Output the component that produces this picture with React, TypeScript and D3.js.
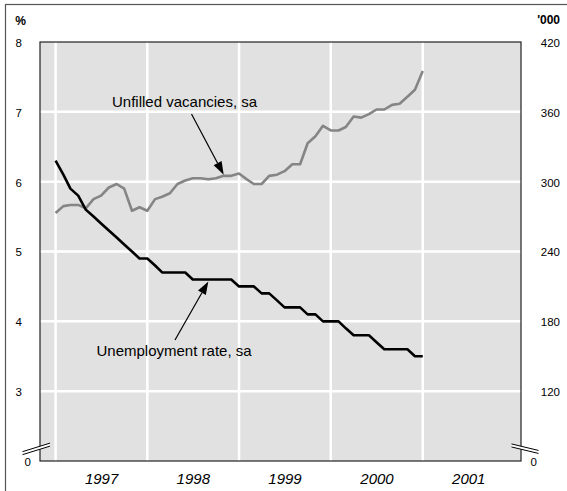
import { useEffect, useRef } from 'react'
import * as d3 from 'd3'

// monthly, Jan 1997 .. Jan 2001
const months = d3.range(49).map((i) => new Date(1997, i, 1))

// claimant unemployment rate, % (left axis)
const unemployment = [
  6.3, 6.1, 5.9, 5.8, 5.6, 5.5, 5.4, 5.3, 5.2, 5.1, 5.0, 4.9,
  4.9, 4.8, 4.7, 4.7, 4.7, 4.7, 4.6, 4.6, 4.6, 4.6, 4.6, 4.6,
  4.5, 4.5, 4.5, 4.4, 4.4, 4.3, 4.2, 4.2, 4.2, 4.1, 4.1, 4.0,
  4.0, 4.0, 3.9, 3.8, 3.8, 3.8, 3.7, 3.6, 3.6, 3.6, 3.6, 3.5,
  3.5,
]

// unfilled vacancies, '000 (right axis)
const vacancies = [
  273, 279, 280, 280, 277, 285, 288, 295, 298, 294, 275, 278,
  275, 285, 287, 290, 298, 301, 303, 303, 302, 303, 305, 305,
  307, 302, 298, 298, 305, 306, 309, 315, 315, 333, 339, 348,
  344, 344, 347, 356, 355, 358, 362, 362, 366, 367, 373, 379,
  395,
]

const leftTicks = [2, 3, 4, 5, 6, 7, 8]
const rightTicks = [60, 120, 180, 240, 300, 360, 420]
const gridValues = [3, 4, 5, 6, 7]
const years = [1997, 1998, 1999, 2000, 2001]

type Pt = { date: Date; value: number }

export default () => {
  const rootRef = useRef<SVGSVGElement>(null)

  useEffect(() => {
    const svg = d3.select(rootRef.current)
    svg.selectAll('*').remove()

    const left = 40,
      top = 42,
      right = 521,
      bottom = 461

    const x = d3
      .scaleTime()
      .domain([new Date(1996, 9, 31), new Date(2002, 0, 27)])
      .range([left, right])
    const yL = d3.scaleLinear().domain([2, 8]).range([bottom, top])
    const yR = d3.scaleLinear().domain([60, 420]).range([bottom, top])

    // outer frame
    svg
      .append('rect')
      .attr('x', 5.5)
      .attr('y', 4.5)
      .attr('width', 600)
      .attr('height', 600)
      .attr('fill', '#fff')
      .attr('stroke', '#555')
      .attr('stroke-width', 1.2)

    // plot background
    svg
      .append('rect')
      .attr('x', left)
      .attr('y', top)
      .attr('width', right - left)
      .attr('height', bottom - top)
      .attr('fill', '#e1e1e1')

    // grid
    svg
      .append('g')
      .selectAll('line')
      .data(gridValues)
      .join('line')
      .attr('x1', left)
      .attr('x2', right)
      .attr('y1', (d) => yL(d))
      .attr('y2', (d) => yL(d))
      .attr('stroke', '#fff')
      .attr('stroke-width', 2.5)
    svg
      .append('g')
      .selectAll('line')
      .data(years)
      .join('line')
      .attr('x1', (d) => x(new Date(d, 0, 1)))
      .attr('x2', (d) => x(new Date(d, 0, 1)))
      .attr('y1', top)
      .attr('y2', bottom)
      .attr('stroke', '#fff')
      .attr('stroke-width', 2.5)

    // plot frame
    svg
      .append('rect')
      .attr('x', left)
      .attr('y', top)
      .attr('width', right - left)
      .attr('height', bottom - top)
      .attr('fill', 'none')
      .attr('stroke', '#222')
      .attr('stroke-width', 1.2)

    // lines
    const vacData: Pt[] = months.map((d, i) => ({ date: d, value: vacancies[i] }))
    const uneData: Pt[] = months.map((d, i) => ({ date: d, value: unemployment[i] }))

    svg
      .append('path')
      .datum(vacData)
      .attr('fill', 'none')
      .attr('stroke', '#858585')
      .attr('stroke-width', 2.6)
      .attr('stroke-linejoin', 'round')
      .attr(
        'd',
        d3
          .line<Pt>()
          .x((d) => x(d.date))
          .y((d) => yR(d.value))
      )

    svg
      .append('path')
      .datum(uneData)
      .attr('fill', 'none')
      .attr('stroke', '#000')
      .attr('stroke-width', 2.6)
      .attr('stroke-linejoin', 'round')
      .attr(
        'd',
        d3
          .line<Pt>()
          .x((d) => x(d.date))
          .y((d) => yL(d.value))
      )

    // axes
    const font = '"Liberation Sans", Arial, sans-serif'
    const leftAxis = svg
      .append('g')
      .attr('transform', 'translate(22,0)')
      .call(
        d3
          .axisLeft(yL)
          .tickValues(leftTicks)
          .tickSize(0)
          .tickPadding(0)
          .tickFormat((d) => (d === 2 ? '0' : String(d)))
      )
    leftAxis.select('.domain').remove()
    leftAxis
      .selectAll('text')
      .attr('font-size', 11.5)
      .attr('font-family', font)
      .attr('fill', '#000')
      .attr('dy', '0.38em')
      .filter((d) => d === 2)
      .attr('x', 9)

    const rightAxis = svg
      .append('g')
      .attr('transform', 'translate(560,0)')
      .call(
        d3
          .axisLeft(yR)
          .tickValues(rightTicks)
          .tickSize(0)
          .tickPadding(0)
          .tickFormat((d) => (d === 60 ? '0' : String(d)))
      )
    rightAxis.select('.domain').remove()
    rightAxis
      .selectAll('text')
      .attr('font-size', 11.5)
      .attr('font-family', font)
      .attr('fill', '#000')
      .attr('dy', '0.38em')
      .filter((d) => d === 60)
      .attr('x', -23)

    const bottomAxis = svg
      .append('g')
      .attr('transform', `translate(0,${bottom})`)
      .call(
        d3
          .axisBottom(x)
          .tickValues(years.map((y) => new Date(y, 6, 1)))
          .tickSize(0)
          .tickPadding(12.5)
          .tickFormat((d) => d3.timeFormat('%Y')(d as Date))
      )
    bottomAxis.select('.domain').remove()
    bottomAxis
      .selectAll('text')
      .attr('font-size', 15)
      .attr('font-style', 'italic')
      .attr('font-family', font)
      .attr('fill', '#000')

    // units
    svg
      .append('text')
      .attr('x', 20.5)
      .attr('y', 25)
      .attr('text-anchor', 'middle')
      .attr('font-size', 12)
      .attr('font-weight', 'bold')
      .attr('font-family', font)
      .text('%')
    svg
      .append('text')
      .attr('x', 560)
      .attr('y', 24)
      .attr('text-anchor', 'end')
      .attr('font-size', 12)
      .attr('font-weight', 'bold')
      .attr('font-family', font)
      .text("'000")

    // axis breaks
    const brk = (cx: number, slope: number) => {
      const x0 = cx - 17.5,
        x1 = cx + 10
      const cy = yL(2.19)
      const yAt = (xx: number, off: number) => cy + off + (xx - cx) * slope
      svg
        .append('path')
        .attr(
          'd',
          `M${x0},${yAt(x0, -1.5)}L${x1},${yAt(x1, -1.5)}L${x1},${yAt(x1, 1.5)}L${x0},${yAt(x0, 1.5)}Z`
        )
        .attr('fill', '#fff')
      ;[-1.5, 1.5].forEach((off) =>
        svg
          .append('line')
          .attr('x1', x0)
          .attr('y1', yAt(x0, off))
          .attr('x2', x1)
          .attr('y2', yAt(x1, off))
          .attr('stroke', '#000')
          .attr('stroke-width', 1)
      )
    }
    brk(left, -0.31)
    svg.selectAll('.brkR').remove()
    ;(() => {
      const cx = right
      const x0 = cx - 9.5,
        x1 = cx + 17.5
      const cy = yL(2.19)
      const slope = 0.24
      const yAt = (xx: number, off: number) => cy + off + (xx - cx) * slope
      svg
        .append('path')
        .attr(
          'd',
          `M${x0},${yAt(x0, -1.5)}L${x1},${yAt(x1, -1.5)}L${x1},${yAt(x1, 1.5)}L${x0},${yAt(x0, 1.5)}Z`
        )
        .attr('fill', '#fff')
      ;[-1.5, 1.5].forEach((off) =>
        svg
          .append('line')
          .attr('x1', x0)
          .attr('y1', yAt(x0, off))
          .attr('x2', x1)
          .attr('y2', yAt(x1, off))
          .attr('stroke', '#000')
          .attr('stroke-width', 1)
      )
    })()

    // annotations
    const arrow = (from: [number, number], to: [number, number]) => {
      const dx = to[0] - from[0],
        dy = to[1] - from[1]
      const len = Math.hypot(dx, dy)
      const ux = dx / len,
        uy = dy / len
      const hl = 13,
        hw = 4.5
      const bx = to[0] - ux * hl,
        by = to[1] - uy * hl
      svg
        .append('line')
        .attr('x1', from[0])
        .attr('y1', from[1])
        .attr('x2', bx)
        .attr('y2', by)
        .attr('stroke', '#000')
        .attr('stroke-width', 1.2)
      svg
        .append('path')
        .attr(
          'd',
          `M${to[0]},${to[1]}L${bx - uy * hw},${by + ux * hw}L${bx + uy * hw},${by - ux * hw}Z`
        )
        .attr('fill', '#000')
    }

    svg
      .append('text')
      .attr('x', 112)
      .attr('y', 106.5)
      .attr('font-size', 15)
      .attr('font-family', font)
      .text('Unfilled vacancies, sa')
    arrow([191.5, 114], [x(new Date(1998, 10, 1)), yR(306)])

    svg
      .append('text')
      .attr('x', 96.5)
      .attr('y', 356)
      .attr('font-size', 15)
      .attr('font-family', font)
      .text('Unemployment rate, sa')
    arrow([175, 340], [x(new Date(1998, 8, 1)), yL(4.57)])
  }, [])

  return (
    <svg
      ref={rootRef}
      width={567}
      height={491}
      style={{ position: 'absolute', left: 0, top: 0 }}
    ></svg>
  )
}
